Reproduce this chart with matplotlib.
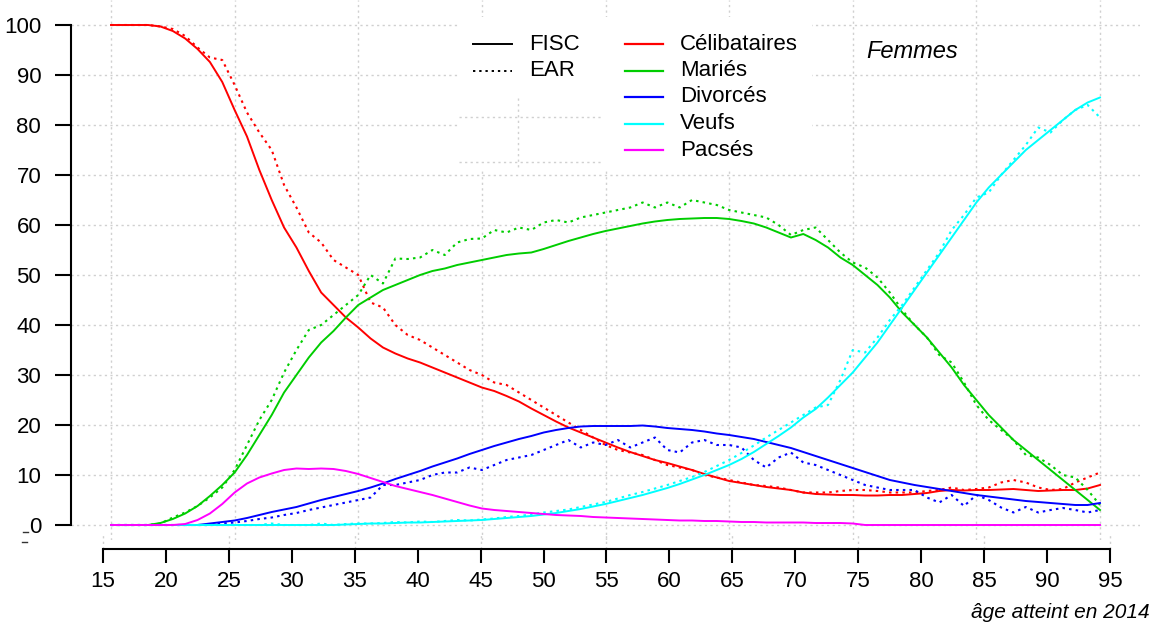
import matplotlib
matplotlib.use("Agg")
import matplotlib.pyplot as plt
from matplotlib.lines import Line2D
from matplotlib.patches import Rectangle
import numpy as np

plt.rcParams['font.family'] = ['Liberation Sans Narrow', 'Liberation Sans', 'DejaVu Sans']

W, H = 1158, 626

ages = np.arange(15, 96)

celib_fisc = [100, 100, 100, 100, 99.7, 98.8, 97.3, 95.2, 92.6, 88.6,
              83, 77.7, 71, 65, 59.5, 55.5, 50.8, 46.5, 44, 41.5,
              39.5, 37.3, 35.5, 34.3, 33.3, 32.5, 31.5, 30.5, 29.5, 28.5,
              27.5, 26.8, 25.8, 24.7, 23.3, 22, 20.7, 19.5, 18.5, 17.5,
              16.5, 15.5, 14.6, 13.8, 13, 12.4, 11.7, 11, 10.2, 9.5,
              8.8, 8.4, 8, 7.6, 7.3, 7, 6.5, 6.2, 6.1, 6,
              6, 5.9, 5.9, 6, 6, 6.2, 6.4, 6.8, 7, 6.9,
              7, 7, 7.1, 7.2, 7, 6.8, 6.9, 7, 7, 7.3, 8]
celib_ear = [100, 100, 100, 100, 99.7, 99.2, 97.8, 95.5, 93.5, 93,
             88, 82.5, 78.5, 75, 68, 63.5, 58.5, 56.5, 53, 51.5,
             50, 44.5, 43.5, 40, 38, 37, 35.5, 34, 32.5, 31,
             30, 28.5, 28, 26.5, 25, 23.5, 22, 20.5, 19, 17.5,
             16, 15, 14.5, 14, 13, 12, 11.5, 11, 10, 9.5,
             9, 8.5, 8, 7.8, 7.5, 7, 6.5, 6.5, 6.5, 6.8,
             7, 7, 6.8, 6.5, 6.5, 6.5, 6.8, 7, 7.5, 7,
             7.2, 7.5, 8.5, 9, 8.5, 7.5, 7, 7.2, 8.5, 9.5, 10.5]
maries_fisc = [0, 0, 0, 0, 0.4, 1.2, 2.3, 3.8, 5.8, 8,
               10.5, 14, 18, 22, 26.5, 30, 33.5, 36.5, 38.8, 41.5,
               44, 45.5, 47, 48, 49, 50, 50.8, 51.3, 52, 52.5,
               53, 53.5, 54, 54.3, 54.5, 55.2, 56, 56.8, 57.5, 58.2,
               58.8, 59.3, 59.8, 60.3, 60.7, 61, 61.2, 61.3, 61.4, 61.4,
               61.2, 60.8, 60.3, 59.5, 58.5, 57.5, 58.2, 57, 55.5, 53.5,
               52, 50, 48, 45.5, 42.5, 40, 37.5, 34.5, 31.5, 28,
               25, 22, 19.5, 17, 15, 13, 11, 9, 7, 5, 3]
maries_ear = [0, 0, 0, 0, 0.3, 1.5, 2.5, 3.8, 5.5, 7.5,
              11, 16, 21, 25, 30.5, 35, 39, 40, 42, 44,
              46, 50, 48.3, 53.3, 53.2, 53.5, 55, 54, 56.5, 57.2,
              57.3, 59, 58.5, 59.5, 59, 60.5, 61, 60.5, 61.5, 62,
              62.5, 63, 63.5, 64.5, 63.5, 64.5, 63.5, 65, 64.5, 64,
              63, 62.5, 62, 61.5, 60, 58, 59, 59.5, 57, 54.5,
              52.5, 51.5, 49.5, 46.5, 43, 40, 37.5, 34, 32.5, 28.5,
              24, 21, 19, 17, 14, 13.5, 12, 10, 9.5, 7, 4]
divorces_fisc = [0, 0, 0, 0, 0, 0, 0, 0, 0.3, 0.6,
                 0.9, 1.4, 2, 2.6, 3.1, 3.6, 4.3, 5, 5.6, 6.2,
                 6.8, 7.5, 8.3, 9.2, 10, 10.8, 11.7, 12.5, 13.3, 14.2,
                 15, 15.8, 16.5, 17.2, 17.8, 18.5, 19, 19.4, 19.7, 19.8,
                 19.8, 19.8, 19.8, 19.9, 19.7, 19.4, 19.2, 19, 18.7, 18.3,
                 18, 17.6, 17.2, 16.6, 16, 15.4, 14.6, 13.8, 13, 12.2,
                 11.4, 10.6, 9.8, 9, 8.5, 8, 7.6, 7.2, 6.8, 6.4,
                 6, 5.7, 5.4, 5.1, 4.8, 4.6, 4.4, 4.2, 4, 4, 4.4]
divorces_ear = [0, 0, 0, 0, 0, 0, 0, 0, 0, 0.3,
                0.5, 0.8, 1.2, 1.5, 2, 2.4, 3, 3.5, 4, 4.5,
                5, 5.5, 8, 8, 8.5, 9, 10, 10.5, 10.5, 11.5,
                11, 12, 13, 13.5, 14, 15, 16, 17, 15.5, 16.5,
                16, 17, 15.5, 16.5, 17.5, 15, 14.5, 16.5, 17, 16,
                16, 15.5, 13, 11.5, 13.5, 14.5, 12.5, 12, 11, 10,
                9, 8, 7.5, 7, 7, 7, 5.5, 4.5, 6, 3.8,
                6, 5, 3.5, 2.5, 3.6, 2.5, 3, 3.4, 3, 2.5, 3]
veufs_fisc = [0] * 19 + [0.1, 0.2, 0.3, 0.3, 0.4, 0.5, 0.5, 0.6, 0.7, 0.8, 0.9,
                         1, 1.2, 1.4, 1.6, 1.8, 2.1, 2.4, 2.8, 3.2, 3.7,
                         4.2, 4.8, 5.4, 6, 6.7, 7.4, 8.2, 9.1, 10, 11,
                         12, 13.2, 14.6, 16.2, 17.8, 19.5, 21.5, 23.2, 25.5, 28,
                         30.5, 33.5, 36.5, 40, 43.5, 47, 50.5, 54, 57.5, 61,
                         64.5, 67.5, 70, 72.5, 75, 77, 79, 81, 83, 84.5, 85.5]
veufs_ear = [0] * 13 + [0.3, 0, 0, 0, 0.3, 0, 0.2, 0.3, 0.3, 0.4, 0.6, 0.5, 0.7,
                        0.6, 0.8, 1, 0.9, 1.1, 1.3, 1.6, 1.8, 2.1, 2.5,
                        2.8, 3.1, 3.6, 4.1, 4.6, 5.3, 6, 6.6, 7.3, 8,
                        8.8, 9.6, 10.6, 11.8, 13, 14.4, 15.9, 17.5, 19, 20.5,
                        22, 23.5, 24, 29, 35, 34.5, 37.5, 41, 44, 47.5,
                        51, 54.5, 59, 62, 65.5, 66.5, 70, 73, 76, 79.5,
                        78.5, 81, 83, 84, 81.5]
pacses_fisc = [0, 0, 0, 0, 0, 0, 0.2, 1, 2.3, 4.2,
               6.5, 8.3, 9.5, 10.3, 11, 11.3, 11.2, 11.3, 11.2, 10.8,
               10.2, 9.4, 8.6, 7.8, 7.2, 6.6, 6, 5.3, 4.6, 3.9,
               3.3, 3, 2.8, 2.6, 2.4, 2.2, 2, 1.9, 1.8, 1.6,
               1.5, 1.4, 1.3, 1.2, 1.1, 1, 0.9, 0.9, 0.8, 0.8,
               0.7, 0.6, 0.6, 0.5, 0.5, 0.5, 0.5, 0.4, 0.4, 0.4,
               0.3] + [0] * 20

series = [
    ("Célibataires", "#ff0000", celib_fisc, celib_ear),
    ("Mariés", "#00cd00", maries_fisc, maries_ear),
    ("Divorcés", "#0000ff", divorces_fisc, divorces_ear),
    ("Veufs", "#00ffff", veufs_fisc, veufs_ear),
    ("Pacsés", "#ff00ff", pacses_fisc, None),
]

xticks = list(range(15, 96, 5))
yticks = list(range(0, 101, 10))

gridcol = "#d0d0d0"
gridls = (0, (1.6, 2.4))
txt = 16


def fx(x):
    return x / W


def fy(y):
    return 1 - y / H


fig = plt.figure(figsize=(W / 100, H / 100), dpi=100)

# inner plotting region: age 15 at px 111, 95 at px 1100 ; value 0 at px 525, 100 at px 25
left, right, top, bot = 71, 1140, 0, 540
ax = fig.add_axes([fx(left), fy(bot), (right - left) / W, (bot - top) / H])
pxa = (1100 - 111) / 80
ax.set_xlim(15 + (left - 111) / pxa, 15 + (right - 111) / pxa)
ax.set_ylim(-3, 105)

for s in ["top", "right", "bottom"]:
    ax.spines[s].set_visible(False)
ax.spines["left"].set_bounds(0, 100)
ax.spines["left"].set_linewidth(1.5)
ax.set_yticks(yticks)
ax.set_yticklabels([str(v) for v in yticks], fontsize=txt)
ax.tick_params(axis="y", length=11.5, width=1.5, pad=10)
ax.set_xticks(range(15, 96, 10))
ax.tick_params(axis="x", length=0, labelbottom=False)
ax.grid(True, color=gridcol, linestyle=gridls, linewidth=1)
ax.set_axisbelow(True)

for name, col, fisc, ear in series:
    ax.plot(ages, fisc, color=col, lw=1.4, zorder=3)
    if ear is not None:
        ax.plot(ages, ear, color=col, lw=1.5, linestyle=(0, (1.2, 2)), zorder=3)

# separate bottom axis (shifted scale)
bx = fig.add_axes([fx(left), fy(549), (right - left) / W, 14 / H])
pxb = (1110 - 103) / 80
bx.set_xlim(15 + (left - 103) / pxb, 15 + (right - 103) / pxb)
bx.set_ylim(0, 1)
bx.patch.set_visible(False)
for s in ["top", "right", "left"]:
    bx.spines[s].set_visible(False)
bx.spines["bottom"].set_bounds(15, 95)
bx.spines["bottom"].set_linewidth(1.5)
bx.set_yticks([])
bx.set_xticks(xticks)
bx.set_xticklabels([str(v) for v in xticks], fontsize=txt)
bx.tick_params(axis="x", length=10, width=1.5, pad=6)
for v in range(15, 96, 10):
    bx.axvline(v, color=gridcol, linestyle=gridls, linewidth=1)

# legend boxes (white) and stray grid pieces
fig.add_artist(Rectangle((fx(459), fy(170)), (812 - 459) / W, (170 - 17) / H,
                         facecolor="white", edgecolor="none", transform=fig.transFigure, zorder=2))
for yy in (117, 162):
    fig.add_artist(Line2D([fx(459), fx(603)], [fy(yy), fy(yy)], color=gridcol,
                          linestyle=gridls, lw=1, transform=fig.transFigure, zorder=2.5))
fig.add_artist(Line2D([fx(518), fx(518)], [fy(98), fy(170)], color=gridcol,
                      linestyle=gridls, lw=1, transform=fig.transFigure, zorder=2.5))

# legend 1: sources
for y, lab, ls in [(44, "FISC", "-"), (71, "EAR", (0, (1.2, 2)))]:
    fig.add_artist(Line2D([fx(473), fx(512)], [fy(y), fy(y)], color="black", lw=1.4,
                          linestyle=ls, transform=fig.transFigure, zorder=3))
    fig.text(fx(529), fy(y), lab, fontsize=txt, va="center", ha="left", zorder=3)

# legend 2: statuses
for i, (name, col, fisc, ear) in enumerate(series):
    y = 44 + i * 26.5
    fig.add_artist(Line2D([fx(625), fx(663)], [fy(y), fy(y)], color=col, lw=1.6,
                          transform=fig.transFigure, zorder=3))
    fig.text(fx(680), fy(y), name, fontsize=txt, va="center", ha="left", zorder=3)

fig.text(fx(866), fy(52), "Femmes", fontsize=txt + 1, style="italic", va="center", ha="left")
fig.text(fx(1150), fy(612), "âge atteint en 2014", fontsize=txt - 1, style="italic",
         va="center", ha="right")

# small stray marks near the 0 label
fig.add_artist(Line2D([fx(23), fx(28)], [fy(532), fy(532)], color="#333333", lw=1,
                      transform=fig.transFigure))
fig.add_artist(Line2D([fx(22), fx(27)], [fy(542), fy(542)], color="#333333", lw=1,
                      transform=fig.transFigure))

fig.savefig("out.png", dpi=100, facecolor="white")
